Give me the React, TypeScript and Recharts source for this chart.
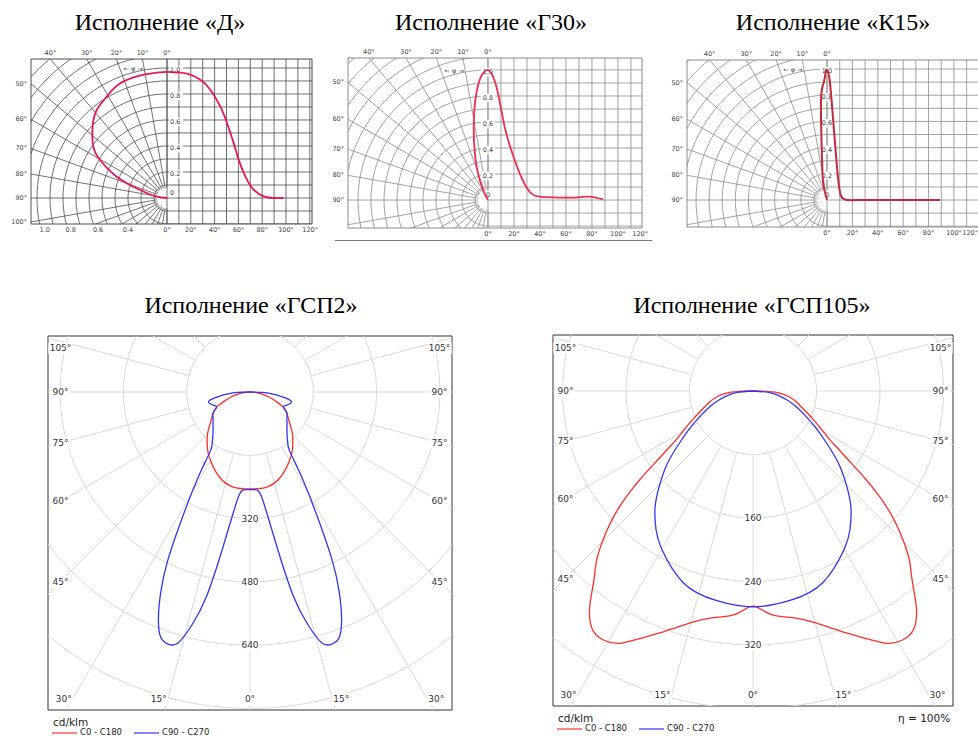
import React from 'react';
import { ScatterChart, Scatter, XAxis, YAxis, ReferenceArea } from 'recharts';

// ---------- «Д»: relative intensity, polar part (angle from zenith) + flat part (angle on x) ----------
const dPolarAngles = [0, 10, 22, 30.8, 38.6, 46.2, 55.1, 60.4, 67, 73.4, 83, 90];
const dPolar = [0.97, 0.965, 0.953, 0.907, 0.866, 0.793, 0.691, 0.592, 0.42, 0.216, 0.08, 0];
const dRectAngles = [0, 8, 16.8, 28, 36.4, 44.8, 50.4, 56, 60.2, 65.8, 72.8, 81.2, 89.6, 98];
const dRect = [0.97, 0.965, 0.956, 0.91, 0.833, 0.705, 0.577, 0.423, 0.295, 0.167, 0.064, 0.013, 0, 0];

// ---------- «Г30» ----------
const g30PolarAngles = [0, 2, 4, 7.2, 11, 15, 20.6, 27, 40];
const g30Polar = [1.0, 0.98, 0.925, 0.775, 0.575, 0.398, 0.219, 0.072, 0];
const g30RectAngles = [0, 3.8, 7.7, 12.8, 17.9, 24.4, 32, 39.7, 50, 57.7, 70, 78, 88.5];
const g30Rect = [1.0, 0.95, 0.82, 0.564, 0.385, 0.205, 0.064, 0.026, 0.02, 0.018, 0.02, 0.026, 0.005];

// ---------- «К15» ----------
const k15PolarAngles = [0, 0.5, 1.6, 3.4, 6, 10, 14, 20];
const k15Polar = [0.99, 0.985, 0.897, 0.77, 0.387, 0.2, 0.106, 0];
const k15RectAngles = [0, 1, 2.6, 5.2, 7.8, 10.4, 13, 15.7, 30, 60, 89];
const k15Rect = [0.99, 0.97, 0.87, 0.564, 0.256, 0.05, 0.01, 0, 0, 0, 0];

// ---------- «ГСП2», cd/klm, angle from nadir ----------
const gsp2C0Angles = [0, 10, 20, 30, 36, 42, 47, 52, 58, 63, 66, 70, 75, 80, 85, 88, 90];
const gsp2C0 = [245, 244, 228, 200, 182, 162, 145, 127, 112, 100, 91, 71, 51, 33, 16, 6, 0];
const gsp2C90Angles = [0, 2, 4, 6, 8, 10, 12, 14, 16, 18, 20, 22, 24, 26, 28, 30, 32, 34, 37, 40, 45, 50, 55, 60, 63, 66, 70, 73, 76, 79, 82, 85, 88, 90];
const gsp2C90 = [247, 247, 248, 262, 312, 405, 528, 607, 660, 670, 660, 618, 555, 475, 375, 295, 230, 178, 158, 146, 132, 122, 114, 108, 100, 92, 98, 104, 108, 101, 79, 56, 31, 0];
const gsp2Rings = [160, 320, 480, 640, 800, 960];
const gsp2RingLabels = [320, 480, 640];

// ---------- «ГСП105», cd/klm ----------
const gsp105C0Angles = [0, 3, 6, 10, 15, 20, 25, 28, 31, 34, 37, 40, 43, 46, 48, 50, 52, 54, 56, 58, 61, 65, 71, 76, 81, 86, 89, 90];
const gsp105C0 = [271, 278, 285, 290, 302, 322, 345, 360, 366, 362, 342, 312, 288, 258, 236, 210, 180, 150, 128, 112, 98, 83, 66, 56, 46, 32, 12, 0];
const gsp105C90Angles = [0, 10, 20, 30, 35, 40, 45, 50, 55, 60, 65, 70, 75, 80, 85, 90];
const gsp105C90 = [272, 268, 257, 230, 213, 192, 166, 140, 112, 90, 72, 58, 45, 33, 20, 0];
const gsp105Rings = [80, 160, 240, 320, 400, 480];
const gsp105RingLabels = [160, 240, 320];

const sideAngles = [105, 90, 75, 60, 45];
const bottomAngles = [0, 15, 30];
const topAngleTicks = [40, 30, 20, 10, 0];

const DEG = Math.PI / 180;
const RED = '#ff2e2e';
const BLUE = '#3434f2';

type Pt = { x: number; y: number };
type Lbl = Pt & { text: string; dx?: number; dy?: number; anchor?: 'start' | 'middle' | 'end'; bg?: boolean };

const noDot = () => <g />;

function labelShape(font: number, color: string, family: string) {
  return (props: any) => {
    const { cx, cy, payload } = props;
    const p = payload as Lbl;
    const x = cx + (p.dx || 0);
    const y = cy + (p.dy || 0);
    const anchor = p.anchor || 'middle';
    const w = p.text.length * font * 0.62 + 2;
    const rx = anchor === 'start' ? x - 1 : anchor === 'end' ? x - w + 1 : x - w / 2;
    return (
      <g>
        {p.bg && <rect x={rx} y={y - font * 0.65} width={w} height={font * 1.3} fill="#fff" />}
        <text x={x} y={y} textAnchor={anchor} dominantBaseline="central" fontSize={font} fill={color} fontFamily={family}>
          {p.text}
        </text>
      </g>
    );
  };
}

// luminous intensity curve, mirrored: left half then right half
function ldc(angles: number[], vals: number[]): Pt[] {
  const left = angles.map((a, i) => ({ x: -vals[i] * Math.sin(a * DEG), y: -vals[i] * Math.cos(a * DEG) }));
  const right = left.map((p) => ({ x: -p.x, y: p.y }));
  return [...left.slice().reverse(), ...right.slice(1)];
}

type PolarProps = {
  left: number; top: number; width: number; height: number; cy: number; k: number;
  rings: number[]; ringLabels: number[]; c0: Pt[]; c90: Pt[];
};

function PolarPanel({ left, top, width, height, cy, k, rings, ringLabels, c0, c90 }: PolarProps) {
  const xMax = width / 2 / k;
  const yMax = cy / k;
  const yMin = -(height - cy) / k;
  const grid: Pt[][] = [];
  rings.forEach((r) => {
    const pts: Pt[] = [];
    for (let a = 0; a <= 360; a += 3) pts.push({ x: r * Math.sin(a * DEG), y: -r * Math.cos(a * DEG) });
    grid.push(pts);
  });
  for (let a = 0; a < 360; a += 15) {
    grid.push([
      { x: rings[0] * Math.sin(a * DEG), y: -rings[0] * Math.cos(a * DEG) },
      { x: 3000 * Math.sin(a * DEG), y: -3000 * Math.cos(a * DEG) },
    ]);
  }
  const labels: Lbl[] = [];
  ringLabels.forEach((r) => labels.push({ x: 0, y: -r, text: String(r), bg: true }));
  [-1, 1].forEach((s) => {
    const ax = xMax - 12.5 / k;
    sideAngles.forEach((a) => {
      const y = a === 90 ? 0 : -ax / Math.tan(a * DEG);
      labels.push({ x: s * ax, y, text: `${a}°`, bg: true, dy: a === 105 ? 7 : 0 });
    });
    bottomAngles.forEach((a) => {
      if (a === 0 && s < 0) return;
      const y = yMin + 11 / k;
      labels.push({ x: s * -y * Math.tan(a * DEG), y, text: `${a}°`, bg: true, dx: a === 0 ? 0 : s * 9 });
    });
  });
  return (
    <div style={{ position: 'absolute', left: left - 1, top: top - 1 }}>
      <ScatterChart width={width + 2} height={height + 2} margin={{ top: 1, right: 1, bottom: 1, left: 1 }}>
        <XAxis type="number" dataKey="x" domain={[-xMax, xMax]} allowDataOverflow hide />
        <YAxis type="number" dataKey="y" domain={[yMin, yMax]} allowDataOverflow hide />
        <XAxis xAxisId="lab" type="number" dataKey="x" domain={[-xMax, xMax]} hide />
        <YAxis yAxisId="lab" type="number" dataKey="y" domain={[yMin, yMax]} hide />
        {grid.map((g, i) => (
          <Scatter key={`g${i}`} data={g} line={{ stroke: '#dadada', strokeWidth: 1 }} shape={noDot} isAnimationActive={false} />
        ))}
        <Scatter data={labels} xAxisId="lab" yAxisId="lab" shape={labelShape(9, '#333', 'DejaVu Sans')} isAnimationActive={false} />
        <Scatter data={c0} line={{ stroke: RED, strokeWidth: 1.3 }} lineJointType="natural" shape={noDot} isAnimationActive={false} />
        <Scatter data={c90} line={{ stroke: BLUE, strokeWidth: 1.3 }} lineJointType="natural" shape={noDot} isAnimationActive={false} />
        <ReferenceArea x1={-xMax} x2={xMax} y1={yMin} y2={yMax} fill="none" stroke="#333" strokeWidth={1} ifOverflow="visible" />
      </ScatterChart>
    </div>
  );
}

type TopProps = {
  left: number; top: number; width: number; height: number;
  margin: { top: number; right: number; bottom: number; left: number };
  xMin: number; xMax: number; yMin: number; yMax: number; kx: number;
  gridColor: string; curveColor: string; curveWidth: number;
  polarA: number[]; polarV: number[]; rectA: number[]; rectV: number[];
  comma: boolean; inside: 'start' | 'middle'; leftTicks: number[];
  bottomLeft: { x: number; text: string }[]; bottomRight: number[];
};

function TopPanel(p: TopProps) {
  const grid: Pt[][] = [];
  for (let i = 1; i <= 15; i++) {
    const r = i / 10;
    const pts: Pt[] = [];
    for (let a = 0; a <= 180; a += 3) pts.push({ x: -r * Math.sin(a * DEG), y: r * Math.cos(a * DEG) });
    grid.push(pts);
  }
  for (let a = 0; a <= 180; a += 10) {
    grid.push([
      { x: -0.08 * Math.sin(a * DEG), y: 0.08 * Math.cos(a * DEG) },
      { x: -3 * Math.sin(a * DEG), y: 3 * Math.cos(a * DEG) },
    ]);
  }
  for (let a = 0; a * p.kx <= p.xMax; a += 10) grid.push([{ x: a * p.kx, y: p.yMin }, { x: a * p.kx, y: p.yMax }]);
  for (let v = -2; v <= 10; v++) grid.push([{ x: 0, y: v / 10 }, { x: p.xMax, y: v / 10 }]);

  const polarPts = p.polarA.map((a, i) => ({ x: -p.polarV[i] * Math.sin(a * DEG), y: p.polarV[i] * Math.cos(a * DEG) }));
  const rectPts = p.rectA.map((a, i) => ({ x: a * p.kx, y: p.rectV[i] }));
  const curve = [...polarPts.slice().reverse(), ...rectPts.slice(1)];

  const fmt = (v: number) => (p.comma ? v.toFixed(1).replace('.', ',') : v.toFixed(1));
  const labels: Lbl[] = [];
  topAngleTicks.forEach((a) => labels.push({ x: -p.yMax * Math.tan(a * DEG), y: p.yMax, text: `${a}°`, dy: -6 }));
  p.leftTicks.forEach((a) => {
    const y = a === 90 ? 0 : -p.xMin / Math.tan(a * DEG);
    labels.push({ x: p.xMin, y, text: `${a}°`, dx: -4, anchor: 'end' });
  });
  [0, 0.2, 0.4, 0.6, 0.8, 1.0].forEach((v) =>
    labels.push({ x: 0, y: v, text: v === 0 ? '0' : fmt(v), dx: p.inside === 'start' ? 3 : 0, dy: v === 0 ? -5 : 2, anchor: p.inside, bg: true })
  );
  p.bottomLeft.forEach((b) => labels.push({ x: b.x, y: p.yMin, text: b.text, dy: 6 }));
  p.bottomRight.forEach((a) => {
    const x = a * p.kx;
    // a label that would run past the panel edge is right-aligned to it
    if (x > p.xMax - 0.05) labels.push({ x: p.xMax, y: p.yMin, text: `${a}°`, dy: 6, dx: p.margin.right > 8 ? 6 : -7, anchor: 'end' });
    else labels.push({ x, y: p.yMin, text: `${a}°`, dy: 6 });
  });
  labels.push({ x: -0.26, y: 0.995, text: '← φ →' });

  return (
    <div style={{ position: 'absolute', left: p.left, top: p.top }}>
      <ScatterChart width={p.width} height={p.height} margin={p.margin}>
        <XAxis type="number" dataKey="x" domain={[p.xMin, p.xMax]} allowDataOverflow hide />
        <YAxis type="number" dataKey="y" domain={[p.yMin, p.yMax]} allowDataOverflow hide />
        <XAxis xAxisId="lab" type="number" dataKey="x" domain={[p.xMin, p.xMax]} hide />
        <YAxis yAxisId="lab" type="number" dataKey="y" domain={[p.yMin, p.yMax]} hide />
        {grid.map((g, i) => (
          <Scatter key={`g${i}`} data={g} line={{ stroke: p.gridColor, strokeWidth: 0.8 }} shape={noDot} isAnimationActive={false} />
        ))}
        <Scatter data={labels} xAxisId="lab" yAxisId="lab" shape={labelShape(6.5, '#444', 'DejaVu Sans')} isAnimationActive={false} />
        <Scatter data={curve} line={{ stroke: p.curveColor, strokeWidth: p.curveWidth }} lineJointType="natural" shape={noDot} isAnimationActive={false} />
        <ReferenceArea x1={p.xMin} x2={p.xMax} y1={p.yMin} y2={p.yMax} fill="none" stroke={p.gridColor} strokeWidth={1} ifOverflow="visible" />
      </ScatterChart>
    </div>
  );
}

const titleStyle = (cx: number, cy: number): React.CSSProperties => ({
  position: 'absolute', left: cx - 150, top: cy - 13, width: 300, lineHeight: '26px', textAlign: 'center',
  fontFamily: '"Liberation Serif", serif', fontSize: 24, color: '#000', whiteSpace: 'nowrap',
});

const small = (left: number, cy: number, size: number, extra?: React.CSSProperties): React.CSSProperties => ({
  position: 'absolute', left, top: cy - size * 0.7, lineHeight: `${size * 1.4}px`, fontSize: size,
  fontFamily: '"DejaVu Sans", sans-serif', color: '#222', whiteSpace: 'nowrap', ...extra,
});

function Legend({ x, y }: { x: number; y: number }) {
  return (
    <>
      <svg style={{ position: 'absolute', left: x, top: y - 2 }} width={110} height={4}>
        <line x1={0} y1={2} x2={25} y2={2} stroke={RED} strokeWidth={1.2} />
        <line x1={82} y1={2} x2={107} y2={2} stroke={BLUE} strokeWidth={1.2} />
      </svg>
      <div style={small(x + 28, y, 8.5)}>C0 - C180</div>
      <div style={small(x + 110, y, 8.5)}>C90 - C270</div>
    </>
  );
}

export default function App() {
  return (
    <div style={{ position: 'absolute', left: 0, top: 0, width: 978, height: 737, overflow: 'hidden', background: '#fff' }}>
      <div style={titleStyle(160, 22)}>Исполнение «Д»</div>
      <div style={titleStyle(491, 22)}>Исполнение «Г30»</div>
      <div style={titleStyle(833, 22)}>Исполнение «К15»</div>
      <div style={titleStyle(251, 305)}>Исполнение «ГСП2»</div>
      <div style={titleStyle(752, 305)}>Исполнение «ГСП105»</div>

      <TopPanel
        left={0} top={40} width={330} height={200} margin={{ top: 19, right: 18, bottom: 16, left: 31 }}
        xMin={-1.046} xMax={1.115} yMin={-0.2} yMax={1.069} kx={0.00915}
        gridColor="#4d4d4d" curveColor="#e8174f" curveWidth={1.8}
        polarA={dPolarAngles} polarV={dPolar} rectA={dRectAngles} rectV={dRect}
        comma={false} inside="start" leftTicks={[50, 60, 70, 80, 90, 100]}
        bottomLeft={[{ x: -0.94, text: '1.0' }, { x: -0.74, text: '0.8' }, { x: -0.53, text: '0.6' }, { x: -0.3, text: '0.4' }]}
        bottomRight={[0, 20, 40, 60, 80, 100, 120]}
      />
      <TopPanel
        left={333} top={40} width={320} height={200} margin={{ top: 18, right: 11, bottom: 12, left: 15 }}
        xMin={-1.077} xMax={1.185} yMin={-0.215} yMax={1.092} kx={0.01}
        gridColor="#8c8c8c" curveColor="#f02c52" curveWidth={1.8}
        polarA={g30PolarAngles} polarV={g30Polar} rectA={g30RectAngles} rectV={g30Rect}
        comma inside="middle" leftTicks={[50, 60, 70, 80, 90]}
        bottomLeft={[]} bottomRight={[0, 20, 40, 60, 80, 100, 120]}
      />
      <div style={{ position: 'absolute', left: 335, top: 240, width: 317, height: 1, background: '#777' }} />
      <TopPanel
        left={660} top={40} width={330} height={200} margin={{ top: 20, right: 5, bottom: 13, left: 27 }}
        xMin={-1.069} xMax={1.206} yMin={-0.206} yMax={1.069} kx={0.00969}
        gridColor="#8c8c8c" curveColor="#c42a3c" curveWidth={2}
        polarA={k15PolarAngles} polarV={k15Polar} rectA={k15RectAngles} rectV={k15Rect}
        comma inside="middle" leftTicks={[50, 60, 70, 80, 90]}
        bottomLeft={[]} bottomRight={[0, 20, 40, 60, 80, 100, 120]}
      />

      <PolarPanel left={48} top={336} width={404} height={374} cy={56} k={63.3 / 160}
        rings={gsp2Rings} ringLabels={gsp2RingLabels}
        c0={ldc(gsp2C0Angles, gsp2C0)} c90={ldc(gsp2C90Angles, gsp2C90)} />
      <div style={small(53, 722, 10.5)}>cd/klm</div>
      <Legend x={52} y={733} />

      <PolarPanel left={553} top={335} width={400} height={371} cy={56} k={63.5 / 80}
        rings={gsp105Rings} ringLabels={gsp105RingLabels}
        c0={ldc(gsp105C0Angles, gsp105C0)} c90={ldc(gsp105C90Angles, gsp105C90)} />
      <div style={small(558, 718, 10.5)}>cd/klm</div>
      <div style={small(898, 718, 10.5)}>η = 100%</div>
      <Legend x={557} y={729} />
    </div>
  );
}
